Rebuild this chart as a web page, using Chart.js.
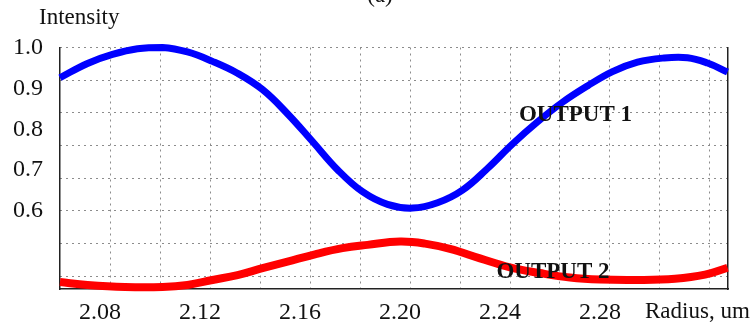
<!DOCTYPE html>
<html>
<head>
<meta charset="utf-8">
<script src="https://cdn.jsdelivr.net/npm/chart.js@4.4.1/dist/chart.umd.min.js"></script>
<style>
  html, body { margin: 0; padding: 0; background: #ffffff; }
  #wrap { width: 756px; height: 326px; position: relative; }
</style>
</head>
<body>
<div id="wrap"><canvas id="c" width="756" height="326"></canvas></div>
<script>
// ---- data ----
const radius1 = [2.064, 2.075, 2.085, 2.095, 2.105, 2.115, 2.125, 2.135, 2.145, 2.155, 2.165, 2.175, 2.185, 2.195, 2.205, 2.215, 2.225, 2.235, 2.245, 2.255, 2.265, 2.275, 2.285, 2.295, 2.305, 2.315, 2.323, 2.331];
const output1 = [0.926, 0.961, 0.983, 0.997, 1.000, 0.989, 0.966, 0.937, 0.897, 0.838, 0.770, 0.701, 0.647, 0.616, 0.607, 0.620, 0.651, 0.704, 0.764, 0.818, 0.866, 0.906, 0.941, 0.964, 0.974, 0.975, 0.962, 0.940];
const radius2 = [2.064, 2.075, 2.090, 2.105, 2.115, 2.125, 2.135, 2.145, 2.155, 2.166, 2.177, 2.187, 2.200, 2.210, 2.220, 2.232, 2.244, 2.256, 2.268, 2.280, 2.295, 2.310, 2.322, 2.331];
const output2 = [0.426, 0.419, 0.414, 0.414, 0.419, 0.431, 0.443, 0.460, 0.476, 0.494, 0.509, 0.517, 0.525, 0.520, 0.507, 0.484, 0.462, 0.448, 0.437, 0.432, 0.431, 0.434, 0.444, 0.461];
const xTickLabels = [2.08, 2.12, 2.16, 2.20, 2.24, 2.28];
const yTickLabels = [0.6, 0.7, 0.8, 0.9, 1.0];
const xGridValues = [2.084, 2.104, 2.124, 2.144, 2.164, 2.184, 2.204, 2.224, 2.244, 2.264, 2.284, 2.304, 2.324];
const yGridValues = [0.44, 0.52, 0.60, 0.68, 0.76, 0.84, 0.92, 1.00];
const seriesNames = ["OUTPUT 1", "OUTPUT 2"];
const axisTitles = { y: "Intensity", x: "Radius, um", panel: "(a)" };

const X_MIN = 2.064, X_MAX = 2.3312, Y_MIN = 0.409, Y_MAX = 1.0;
const SERIF = "'Liberation Serif', 'Times New Roman', serif";
const GRID_COLOR = '#8c8c8c';

function pts(xs, ys) { return xs.map((x, i) => ({ x: x, y: ys[i] })); }
function setTicks(values) { return function (scale) { scale.ticks = values.map(v => ({ value: v })); }; }

const textPlugin = {
  id: 'textPlugin',
  afterDatasetsDraw(chart) {
    const ctx = chart.ctx;
    const xs = chart.scales.x, ys = chart.scales.y;
    ctx.save();
    ctx.fillStyle = '#111';
    ctx.font = 'bold 23px ' + SERIF;
    ctx.textAlign = 'center';
    ctx.textBaseline = 'middle';
    ctx.fillText(seriesNames[0], xs.getPixelForValue(2.2702), ys.getPixelForValue(0.834));
    ctx.fillText(seriesNames[1], xs.getPixelForValue(2.2612), ys.getPixelForValue(0.450));
    ctx.font = '23px ' + SERIF;
    ctx.textAlign = 'left';
    ctx.fillText(axisTitles.y, 39, 18);
    ctx.fillText(axisTitles.x, 645, 312);
    ctx.textAlign = 'center';
    ctx.textBaseline = 'alphabetic';
    ctx.fillText(axisTitles.panel, 380, 2);
    ctx.restore();
  }
};

new Chart(document.getElementById('c'), {
  type: 'line',
  data: {
    datasets: [
      { label: seriesNames[0], data: pts(radius1, output1), borderColor: '#0000ff', borderWidth: 7,
        pointRadius: 0, tension: 0.4, fill: false, clip: false, xAxisID: 'x', yAxisID: 'y' },
      { label: seriesNames[1], data: pts(radius2, output2), borderColor: '#ff0000', borderWidth: 8,
        pointRadius: 0, tension: 0.4, fill: false, clip: false, xAxisID: 'x', yAxisID: 'y' }
    ]
  },
  options: {
    responsive: false,
    animation: false,
    devicePixelRatio: 1,
    layout: { padding: { top: 47.5, right: 28, bottom: 0, left: 0 } },
    plugins: { legend: { display: false }, tooltip: { enabled: false }, title: { display: false } },
    scales: {
      x: {
        type: 'linear', position: 'bottom', min: X_MIN, max: X_MAX,
        afterBuildTicks: setTicks(xTickLabels),
        afterFit(s) { s.height = 37; },
        grid: { display: false, drawTicks: false },
        border: { display: true, color: '#222', width: 1.5 },
        ticks: { padding: 9, color: '#111', font: { family: SERIF, size: 24 }, maxRotation: 0, autoSkip: false,
                 callback: v => v.toFixed(2) }
      },
      xg: {
        type: 'linear', position: 'bottom', min: X_MIN, max: X_MAX,
        afterBuildTicks: setTicks(xGridValues),
        afterFit(s) { s.height = 0; },
        ticks: { display: false },
        border: { display: false, dash: [2, 4] },
        grid: { display: true, drawTicks: false, color: GRID_COLOR, lineWidth: 1 }
      },
      y: {
        type: 'linear', position: 'left', min: Y_MIN, max: Y_MAX,
        afterBuildTicks: setTicks(yTickLabels),
        afterFit(s) { s.width = 60; },
        grid: { display: false, drawTicks: false },
        border: { display: true, color: '#222', width: 1.5 },
        ticks: { padding: 17, color: '#111', font: { family: SERIF, size: 24 }, autoSkip: false,
                 callback: v => v.toFixed(1) }
      },
      yg: {
        type: 'linear', position: 'left', min: Y_MIN, max: Y_MAX,
        afterBuildTicks: setTicks(yGridValues),
        afterFit(s) { s.width = 0; },
        ticks: { display: false },
        border: { display: false, dash: [2, 4] },
        grid: { display: true, drawTicks: false, color: GRID_COLOR, lineWidth: 1 }
      },
      yr: {
        type: 'linear', position: 'right', min: Y_MIN, max: Y_MAX,
        afterFit(s) { s.width = 0; },
        ticks: { display: false },
        grid: { display: false, drawTicks: false },
        border: { display: true, color: '#222', width: 1.5 }
      }
    }
  },
  plugins: [textPlugin]
});
</script>
</body>
</html>
